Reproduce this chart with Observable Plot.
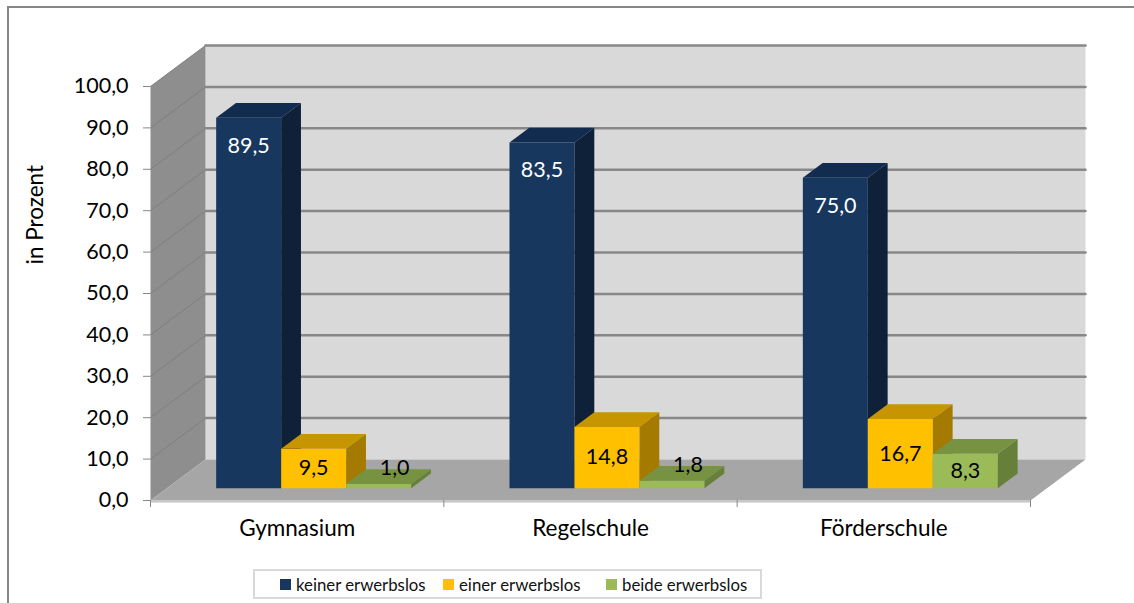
<!DOCTYPE html>
<html>
<head>
<meta charset="utf-8">
<script src="https://cdn.jsdelivr.net/npm/d3@7"></script>
<script src="https://cdn.jsdelivr.net/npm/@observablehq/plot@0.6"></script>
<style>
  html, body { margin: 0; padding: 0; background: #fff; overflow: hidden; }
  body { width: 1134px; height: 603px; position: relative; font-family: Lato, "Open Sans", sans-serif; }
  #frame { position: absolute; left: 7px; top: 6px; width: 1400px; height: 800px;
           border-left: 2px solid #878787; border-top: 2px solid #878787; }
  #chart { position: absolute; left: 0; top: 0; }
  #legend { position: absolute; left: 253px; top: 569px; width: 505px; height: 26px;
            border: 2px solid #d9d9d9; background: #fff; }
  .item { position: absolute; top: 0; height: 26px; display: flex; align-items: center;
          font-size: 16.8px; color: #111; white-space: nowrap; }
  .sw { width: 11px; height: 11px; margin-right: 5px; }
</style>
</head>
<body>
<div id="frame"></div>
<div id="chart"></div>
<div id="legend"></div>
<script>
// Schulart and share of pupils by parents' unemployment (in Prozent)
const categories = ["Gymnasium", "Regelschule", "Förderschule"];
const seriesNames = ["keiner erwerbslos", "einer erwerbslos", "beide erwerbslos"];
const keiner = [89.5, 83.5, 75.0];
const einer = [9.5, 14.8, 16.7];
const beide = [1.0, 1.8, 8.3];
const yTicks = [0, 10, 20, 30, 40, 50, 60, 70, 80, 90, 100];

// face colours per series: front, top, side
const palette = [
  {front: "#17375e", top: "#112c4f", side: "#0e2139"},
  {front: "#ffc000", top: "#c69500", side: "#a47b00"},
  {front: "#9bbb59", top: "#779342", side: "#66803a"}
];

const W = 1134, H = 560;
const X0 = 150, X1 = 1030, Y0 = 500, Y100 = 86;
const pxPerX = (X1 - X0) / categories.length;
const pxPerY = (Y0 - Y100) / 100;

// oblique depth of the whole chart box, converted to data units
const DX = 55 / pxPerX, DY = 41 / pxPerY;
// bars sit between these depth fractions
const F0 = 0.3, F1 = 0.66;
const BW = 65 / pxPerX;                      // bar width in category units
const GAP = (1 - seriesNames.length * BW) / 2;

const pt = (x, y, d) => ({x: x + d * DX, y: y + d * DY});
const fmt = v => d3.format(".1f")(v).replace(".", ",");

const polys = [];
const addPoly = (id, fill, corners) => corners.forEach(c => polys.push({id, fill, ...c}));

// walls and floor
addPoly("back", "#d9d9d9", [pt(0, 0, 1), pt(3, 0, 1), pt(3, 100, 1), pt(0, 100, 1)]);
addPoly("left", "#8e8e8e", [pt(0, 0, 0), pt(0, 100, 0), pt(0, 100, 1), pt(0, 0, 1)]);
addPoly("floor", "#a6a6a6", [pt(0, 0, 0), pt(3, 0, 0), pt(3, 0, 1), pt(0, 0, 1)]);

// gridlines on the back wall and the left wall
const backGrid = [], sideGrid = [];
yTicks.filter(v => v > 0).forEach(v => {
  backGrid.push({g: v, ...pt(0, v, 1)}, {g: v, ...pt(3, v, 1)});
  sideGrid.push({g: v, ...pt(0, v, 0)}, {g: v, ...pt(0, v, 1)});
});

// bars
const values = [keiner, einer, beide];
const bars = [];
categories.forEach((cat, i) => {
  values.forEach((arr, s) => {
    const v = arr[i];
    const x0 = i + GAP + s * BW, x1 = x0 + BW;
    const c = palette[s];
    const id = `${i}-${s}`;
    addPoly(id + "f", c.front, [pt(x0, 0, F0), pt(x1, 0, F0), pt(x1, v, F0), pt(x0, v, F0)]);
    addPoly(id + "t", c.top, [pt(x0, v, F0), pt(x1, v, F0), pt(x1, v, F1), pt(x0, v, F1)]);
    addPoly(id + "s", c.side, [pt(x1, 0, F0), pt(x1, v, F0), pt(x1, v, F1), pt(x1, 0, F1)]);
    bars.push({cat, s, v, cx: (x0 + x1) / 2 + F0 * DX, base: F0 * DY});
  });
});

const tall = bars.filter(b => b.s === 0);
const mid = bars.filter(b => b.s > 0 && b.v >= 5);
const small = bars.filter(b => b.s > 0 && b.v < 5);

const chart = Plot.plot({
  width: W,
  height: H,
  marginLeft: X0,
  marginRight: W - X1,
  marginTop: Y100,
  marginBottom: H - Y0,
  style: {fontFamily: "Lato, 'Open Sans', sans-serif", fontSize: "21.5px", background: "transparent", overflow: "visible", color: "#000"},
  x: {domain: [0, categories.length]},
  y: {domain: [0, 100]},
  color: {type: "identity"},
  marks: [
    Plot.line(polys.filter(p => ["back", "left", "floor"].includes(p.id)),
      {x: "x", y: "y", z: "id", fill: "fill", stroke: "none"}),
    Plot.line(sideGrid, {x: "x", y: "y", z: "g", stroke: "#7f7f7f", strokeWidth: 1}),
    Plot.line(backGrid, {x: "x", y: "y", z: "g", stroke: "#888888", strokeWidth: 2.5}),
    Plot.ruleY([0], {x1: 0, x2: categories.length, stroke: "#c4c4c4", strokeWidth: 2, dy: 1}),
    Plot.line(polys.filter(p => !["back", "left", "floor"].includes(p.id)),
      {x: "x", y: "y", z: "id", fill: "fill", stroke: "none"}),
    Plot.axisY({ticks: yTicks, tickSize: 7, tickPadding: 15, tickFormat: fmt, stroke: "#878787", fill: "#000", label: null}),
    Plot.axisX({ticks: [0, 1, 2, 3], tickSize: 7, tickFormat: () => "", stroke: "#878787", label: null}),
    Plot.axisX({ticks: categories.map((c, i) => i + 0.5), tickSize: 0, tickPadding: 20, fontSize: 22.5,
      tickFormat: d => categories[Math.floor(d)], fill: "#000", label: null}),
    Plot.text(["in Prozent"], {frameAnchor: "left", rotate: -90, dx: -115, dy: -29, fill: "#000", fontSize: 22.5}),
    Plot.text(tall, {x: "cx", y: d => d.v + d.base, text: d => fmt(d.v), dy: 28, fill: "#fff"}),
    Plot.text(mid, {x: "cx", y: d => d.v / 2 + d.base, text: d => fmt(d.v), fill: "#000"}),
    Plot.text(small, {x: "cx", y: d => d.v + d.base, text: d => fmt(d.v), dx: 16, dy: -16, fill: "#000"})
  ]
});
document.getElementById("chart").appendChild(chart);

// legend
const legend = document.getElementById("legend");
seriesNames.forEach((name, s) => {
  const item = document.createElement("div");
  item.className = "item";
  item.style.left = (25 + s * 163) + "px";
  const sw = document.createElement("span");
  sw.className = "sw";
  sw.style.background = palette[s].front;
  const label = document.createElement("span");
  label.textContent = name;
  item.append(sw, label);
  legend.appendChild(item);
});
</script>
</body>
</html>
